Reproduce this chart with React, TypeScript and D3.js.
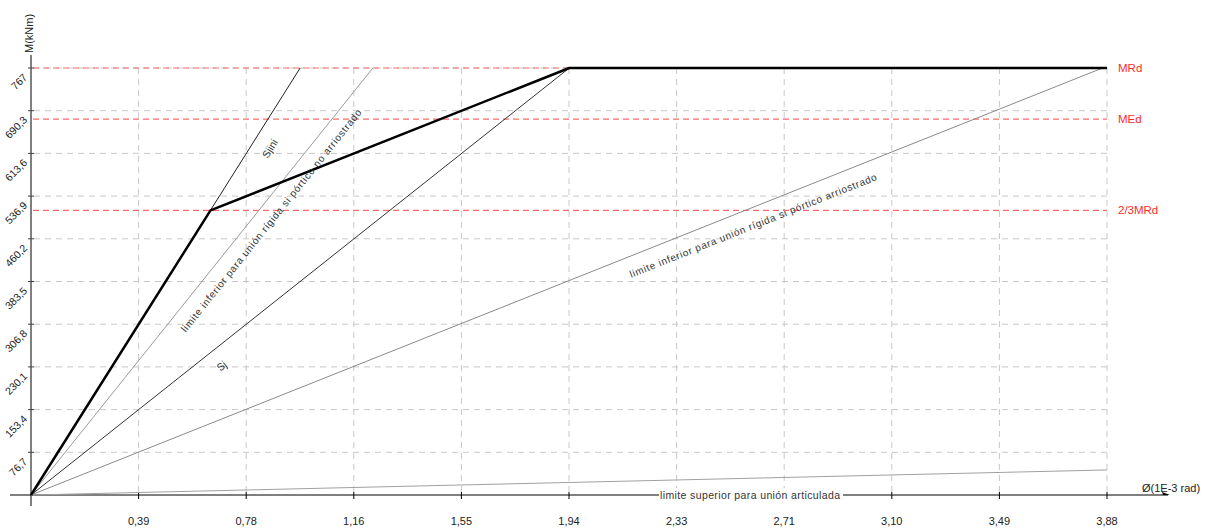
import React from "react";
import * as d3 from "d3";

const W = 1206;
const H = 531;

// axis
const xMax = 3.878;
const yMax = 767;
const xTickLabels = ["0,39", "0,78", "1,16", "1,55", "1,94", "2,33", "2,71", "3,10", "3,49", "3,88"];
const yTickLabels = ["76,7", "153,4", "230,1", "306,8", "383,5", "460,2", "536,9", "613,6", "690,3", "767"];
const yTickValues = [76.7, 153.4, 230.1, 306.8, 383.5, 460.2, 536.9, 613.6, 690.3, 767];
const xTickValues = [0.3878, 0.7756, 1.1634, 1.5512, 1.939, 2.3268, 2.7146, 3.1024, 3.4902, 3.878];

// moment-rotation curve (thick)
const curvePhi = [0, 0.647, 1.94, 3.878];
const curveM = [0, 511.3, 767, 767];

// straight lines from origin: end points
const lineNames = ["Sjini", "rigidNoBraced", "Sj", "rigidBraced", "articulated"];
const lineEndPhi = [0.97, 1.232, 1.94, 3.862, 3.878];
const lineEndM = [767, 767, 767, 767, 45];
const lineColors = ["#222", "#9a9a9a", "#333", "#8a8a8a", "#a0a0a0"];

// limit lines
const limitNames = ["MRd", "MEd", "2/3MRd"];
const limitValues = [767, 675, 511.3];

export default function App() {
  const x = d3.scaleLinear().domain([0, xMax]).range([31, 1107]);
  const y = d3.scaleLinear().domain([0, yMax]).range([495, 68]);
  const line = d3.line<[number, number]>().x((d) => x(d[0])).y((d) => y(d[1]));
  const curveData: [number, number][] = curvePhi.map((p, i) => [p, curveM[i]]);

  const font = "'Liberation Sans', Arial, sans-serif";

  const alongLabel = (
    idx: number,
    t: number,
    offset: number,
    text: string,
    size: number,
    len?: number
  ) => {
    const px = x(lineEndPhi[idx] * t);
    const py = y(lineEndM[idx] * t);
    const ang = (Math.atan2(y(0) - y(lineEndM[idx]), x(lineEndPhi[idx]) - x(0)) * 180) / Math.PI;
    return (
      <g transform={`translate(${px},${py}) rotate(${-ang})`}>
        <text
          x={0}
          y={offset}
          textAnchor="middle"
          dominantBaseline="central"
          fontSize={size}
          fontFamily={font}
          fill="#333"
          textLength={len}
          lengthAdjust={len ? "spacing" : undefined}
        >
          {text}
        </text>
      </g>
    );
  };

  return (
    <svg width={W} height={H} style={{ position: "absolute", left: 0, top: 0, background: "#fff" }}>
      <rect x={0} y={0} width={W} height={H} fill="#fff" />
      {/* grid */}
      {yTickValues.map((v, i) => (
        <line key={"gy" + i} x1={34} x2={x(xMax)} y1={y(v)} y2={y(v)} stroke="#c8c8c8" strokeDasharray="6,5" />
      ))}
      {xTickValues.map((v, i) => (
        <line key={"gx" + i} x1={x(v)} x2={x(v)} y1={y(yMax)} y2={y(0) - 3} stroke="#c8c8c8" strokeDasharray="6,5" />
      ))}
      {/* limit lines */}
      {limitValues.map((v, i) => (
        <g key={"lim" + i}>
          <line x1={33} x2={x(xMax)} y1={y(v)} y2={y(v)} stroke="#ff6b6b" strokeWidth={1.2} strokeDasharray="6,4" />
          <text x={1118} y={y(v)} dominantBaseline="central" fontSize={11.5} fontFamily={font} fill="#ff2a2a">
            {limitNames[i]}
          </text>
        </g>
      ))}
      {/* axes */}
      <line x1={31} x2={31} y1={55} y2={506} stroke="#000" />
      <line x1={10} x2={1168} y1={y(0)} y2={y(0)} stroke="#000" />
      <path d={`M1170,${y(0)} L1162,${y(0) - 3} L1163,${y(0)} Z`} fill="#000" />
      {xTickValues.map((v, i) => (
        <g key={"xt" + i}>
          <line x1={x(v)} x2={x(v)} y1={y(0) - 3} y2={y(0) + 4} stroke="#000" />
          <text x={x(v)} y={525} textAnchor="middle" fontSize={11} fontFamily={font} fill="#222">
            {xTickLabels[i]}
          </text>
        </g>
      ))}
      {yTickValues.map((v, i) => (
        <g key={"yt" + i}>
          <line x1={28} x2={34} y1={y(v)} y2={y(v)} stroke="#444" />
          <g transform={`translate(28,${y(v) + 10}) rotate(-45)`}>
            <text x={0} y={0} textAnchor="end" fontSize={10.5} fontFamily={font} fill="#222">
              {yTickLabels[i]}
            </text>
          </g>
        </g>
      ))}
      <g transform="translate(33,53) rotate(-90)">
        <text x={0} y={0} fontSize={11} fontFamily={font} fill="#222">
          M(kNm)
        </text>
      </g>
      <text x={1142} y={492} fontSize={11} fontFamily={font} fill="#222">
        Ø(1E-3 rad)
      </text>
      {/* straight lines */}
      {lineNames.map((n, i) => (
        <path
          key={n}
          d={line([[0, 0], [lineEndPhi[i], lineEndM[i]]]) || ""}
          fill="none"
          stroke={lineColors[i]}
          strokeWidth={1}
        />
      ))}
      {/* curve */}
      <path d={line(curveData) || ""} fill="none" stroke="#000" strokeWidth={2.5} strokeLinejoin="round" />
      {/* line labels */}
      {alongLabel(0, 0.833, 17, "Sjini", 10.5)}
      {alongLabel(1, 0.666, 16, "limite inferior para unión rígida si pórtico no arriostrado", 10, 282)}
      {alongLabel(2, 0.334, 17, "Sj", 10.5)}
      {alongLabel(3, 0.668, 17, "limite inferior para unión rígida si pórtico arriostrado", 10, 265)}
      <rect x={659} y={y(0) - 7} width={184} height={13} fill="#fff" />
      <text
        x={750}
        y={y(0)}
        textAnchor="middle"
        dominantBaseline="central"
        fontSize={10.5}
        fontFamily={font}
        fill="#333"
        textLength={180}
        lengthAdjust="spacing"
      >
        limite superior para unión articulada
      </text>
    </svg>
  );
}
